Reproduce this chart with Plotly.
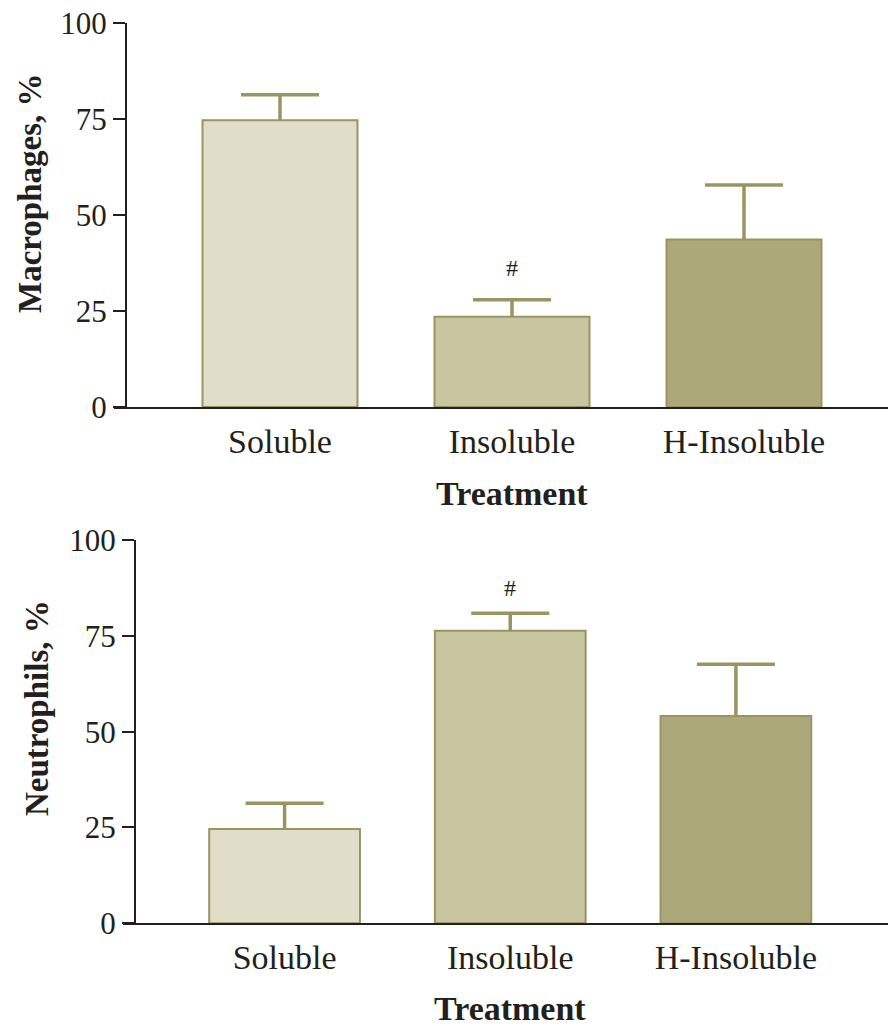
import plotly.graph_objects as go

categories = ["Soluble", "Insoluble", "H-Insoluble"]
macrophages = [74.7, 23.5, 43.6]
macrophages_upper = [81.3, 27.9, 57.8]
neutrophils = [24.6, 76.3, 54.1]
neutrophils_upper = [31.3, 80.9, 67.6]
y_ticks = [0, 25, 50, 75, 100]
fill_colors = ["#E0DEC9", "#C8C5A1", "#ADA87A"]
edge_color = "#9A9460"
ink = "#231F20"
FONT = "Liberation Serif"

fig = go.Figure()

def add_panel(vals, upper, xa, ya):
    # error bars drawn first, then the opaque bars hide the lower part of the stem
    fig.add_trace(go.Bar(
        x=categories, y=vals, xaxis=xa, yaxis=ya, width=0.668,
        marker=dict(color="rgba(0,0,0,0)", line=dict(width=0)),
        error_y=dict(type="data", symmetric=False,
                     array=[u - v for u, v in zip(upper, vals)],
                     arrayminus=[v / 2 for v in vals],
                     color=edge_color, thickness=3.5, width=39),
        showlegend=False, hoverinfo="skip"))
    fig.add_trace(go.Bar(
        x=categories, y=vals, xaxis=xa, yaxis=ya, width=0.668,
        marker=dict(color=fill_colors, line=dict(color=edge_color, width=2)),
        showlegend=False, hoverinfo="skip"))

add_panel(macrophages, macrophages_upper, "x", "y")
add_panel(neutrophils, neutrophils_upper, "x2", "y2")

W, H = 888, 1026

def xaxis(dom_left_px, rng, anchor):
    return dict(domain=[dom_left_px / W, 1], range=rng, type="category",
                anchor=anchor, automargin=False,
                showline=True, linecolor=ink, linewidth=2, ticks="",
                ticklabelstandoff=3, showgrid=False, zeroline=False,
                tickfont=dict(family=FONT, size=34, color=ink), fixedrange=True)

def yaxis(top_px, bot_px, pos_px):
    return dict(domain=[(H - bot_px) / H, (H - top_px) / H], range=[0, 100],
                anchor="free", position=pos_px / W, automargin=False,
                tickvals=y_ticks, ticks="outside", ticklen=12, tickwidth=2,
                tickcolor=ink, showline=True, linecolor=ink, linewidth=2,
                showgrid=False, zeroline=False,
                tickfont=dict(family=FONT, size=31, color=ink), fixedrange=True)

fig.update_layout(
    width=W, height=H, margin=dict(l=0, r=0, t=0, b=0, autoexpand=False),
    paper_bgcolor="white", plot_bgcolor="white", barmode="overlay",
    xaxis=xaxis(114, [-0.7155, 2.6207], "y"),
    yaxis=yaxis(23, 407, 126),
    xaxis2=xaxis(123, [-0.716, 2.674], "y2"),
    yaxis2=yaxis(540, 923.3, 135),
    font=dict(family=FONT, color=ink),
)

annotations = [
    dict(text="<b>Macrophages, %</b>", x=30 / W, y=(H - 193) / H, textangle=-90,
         font=dict(size=33)),
    dict(text="<b>Neutrophils, %</b>", x=37 / W, y=(H - 708) / H, textangle=-90,
         font=dict(size=33)),
    dict(text="<b>Treatment</b>", x=512 / W, y=(H - 493) / H, font=dict(size=34)),
    dict(text="<b>Treatment</b>", x=510 / W, y=(H - 1008) / H, font=dict(size=34)),
]
for a in annotations:
    a.update(xref="paper", yref="paper", showarrow=False, xanchor="center", yanchor="middle")
    a["font"].update(family=FONT, color=ink)
annotations += [
    dict(text="#", x="Insoluble", y=36.2, xref="x", yref="y", showarrow=False,
         font=dict(family=FONT, size=24, color=ink), yanchor="middle"),
    dict(text="#", x="Insoluble", y=87.5, xref="x2", yref="y2", showarrow=False,
         font=dict(family=FONT, size=24, color=ink), yanchor="middle"),
]
fig.update_layout(annotations=annotations)

fig.write_html("out.html")
